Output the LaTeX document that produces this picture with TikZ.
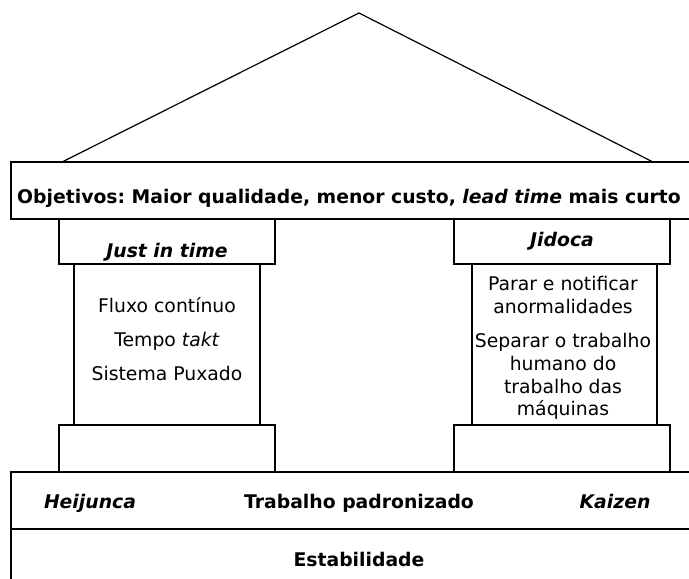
\documentclass[tikz,border=0pt]{standalone}
\usepackage{fontspec}
\setmainfont{DejaVu Sans}
\frenchspacing
\begin{document}
\begin{tikzpicture}[x=1pt,y=-1pt,
  line/.style={draw=black,line width=1.2pt},
  lbl/.style={inner sep=0pt,anchor=base,font=\fontsize{18.8}{22.7}\selectfont},
  blbl/.style={lbl,font=\fontsize{18.8}{22.7}\selectfont\bfseries}]
\useasboundingbox (0,0) rectangle (689,579);
\clip (0,0) rectangle (689,579);
% roof
\coordinate (roofL) at (62,162);
\coordinate (apex) at (359,13);
\coordinate (roofR) at (653,162);
\draw[line] (roofL) -- (apex) -- (roofR);
% beam
\draw[line] (11,162) rectangle (700,219);
\node[blbl] (obj) at (349,203) {\frenchspacing Objetivos: Maior qualidade, menor custo, \textit{lead time} mais curto};
% left pillar
\draw[line] (59,219) rectangle (275,264);
\draw[line] (74,264) rectangle (260,425);
\draw[line] (59,425) rectangle (275,472);
\node[blbl] (jit) at (167,257) {\textit{Just in time}};
\node[lbl] (fluxo) at (167,312) {Fluxo contínuo};
\node[lbl] (takt) at (167,346) {Tempo \textit{takt}};
\node[lbl] (puxado) at (167,380) {Sistema Puxado};
% right pillar
\draw[line] (454,219) rectangle (670,264);
\draw[line] (472,264) rectangle (657,425);
\draw[line] (454,425) rectangle (670,472);
\node[blbl] (jidoca) at (562,246) {\textit{Jidoca}};
\node[lbl] (parar1) at (563,290) {Parar e notificar};
\node[lbl] (parar2) at (563,313) {anormalidades};
\node[lbl] (sep1) at (563,347) {Separar o trabalho};
\node[lbl] (sep2) at (563,370) {humano do};
\node[lbl] (sep3) at (563,393) {trabalho das};
\node[lbl] (sep4) at (563,415) {máquinas};
% foundation
\draw[line] (11,472) rectangle (700,600);
\draw[line] (11,529) -- (700,529);
\node[blbl] (heij) at (90,508) {\textit{Heijunca}};
\node[blbl] (trab) at (359,508) {Trabalho padronizado};
\node[blbl] (kaiz) at (615,508) {\textit{Kaizen}};
\node[blbl] (estab) at (359,566) {Estabilidade};
\end{tikzpicture}
\end{document}
